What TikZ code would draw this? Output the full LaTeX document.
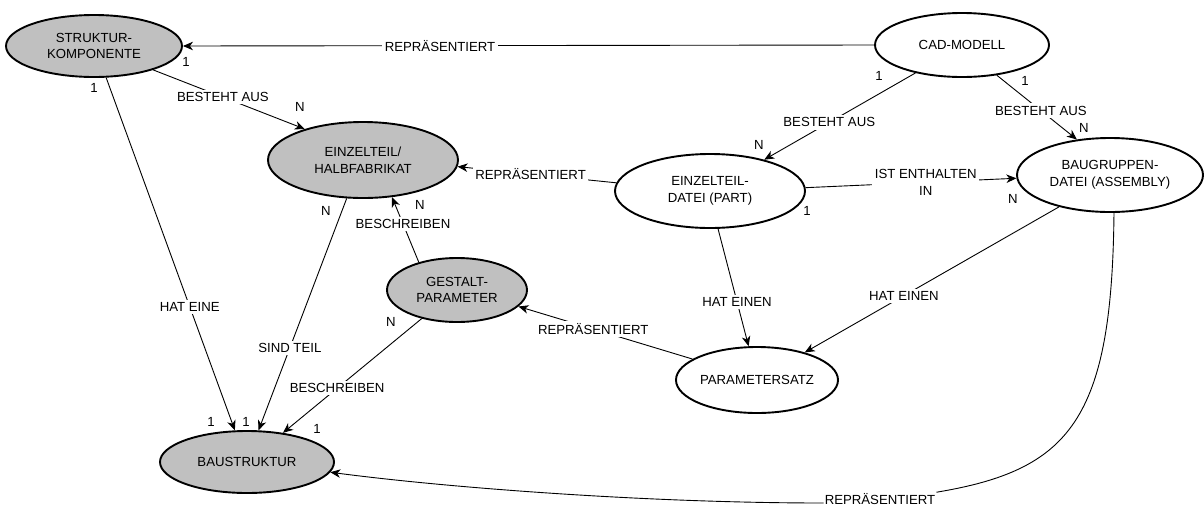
\documentclass[tikz,border=0pt]{standalone}
\usepackage{fontspec}
\setmainfont{Liberation Sans}
\usetikzlibrary{shapes.geometric,arrows.meta}
\definecolor{entityfill}{RGB}{192,192,192}
\begin{document}
\begin{tikzpicture}[x=1pt,y=-1pt,
  font=\fontsize{13.2}{16.5}\selectfont,
  entity/.style={ellipse,draw,line width=1.9pt,inner sep=0pt,align=center},
  grayent/.style={entity,fill=entityfill},
  whiteent/.style={entity,fill=white},
  rel/.style={line width=0.9pt},
  tipped/.style={-{Stealth[length=10pt,width=8.5pt,inset=3pt]}},
  lbl/.style={fill=white,inner sep=2.5pt,align=center},
  card/.style={inner sep=1pt}]
\useasboundingbox (0,0) rectangle (1204,507);

% entities
\node[grayent,minimum width=176pt,minimum height=62pt] (SK) at (94,46) {STRUKTUR-\\KOMPONENTE};
\node[whiteent,minimum width=174pt,minimum height=64pt] (CAD) at (962,45) {CAD-MODELL};
\node[grayent,minimum width=190pt,minimum height=76pt] (EH) at (363,160) {EINZELTEIL/\\HALBFABRIKAT};
\node[whiteent,minimum width=190pt,minimum height=74pt] (ED) at (710,191) {EINZELTEIL-\\DATEI (PART)};
\node[whiteent,minimum width=186pt,minimum height=74pt] (BG) at (1110,175) {BAUGRUPPEN-\\DATEI (ASSEMBLY)};
\node[grayent,minimum width=140pt,minimum height=64pt] (GP) at (457,290) {GESTALT-\\PARAMETER};
\node[whiteent,minimum width=162pt,minimum height=66pt] (PS) at (757,380) {PARAMETERSATZ};
\node[grayent,minimum width=174pt,minimum height=62pt] (BS) at (247,462) {BAUSTRUKTUR};

% relationships
\draw[rel,tipped] (CAD.west) -- node[lbl,pos=0.628] {REPRÄSENTIERT} (SK.east);
\draw[rel,tipped] (SK.-22) -- node[lbl,pos=0.46] {BESTEHT AUS} (EH.152);
\draw[rel,tipped] (SK.-69) -- node[lbl,pos=0.65] {HAT EINE} (BS.111);
\draw[rel,tipped] (EH.-113) -- node[lbl,pos=0.645] {SIND TEIL} (BS.70);
\draw[rel,tipped] (GP.219) -- node[lbl,pos=0.61] {BESCHREIBEN} (BS.39);
\draw[rel,tipped] (GP.144) -- node[lbl,pos=0.59] {BESCHREIBEN} (EH.-52);
\draw[rel,tipped] (ED.175) -- node[lbl,pos=0.54] {REPRÄSENTIERT} (EH.-4);
\draw[rel,tipped] (CAD.211) -- node[lbl,pos=0.57] {BESTEHT AUS} (ED.30);
\draw[rel,tipped] (CAD.-41) -- node[lbl,pos=0.55] {BESTEHT AUS} (BG.133);
\draw[rel,tipped] (ED.2) -- node[lbl,pos=0.57] {IST ENTHALTEN\\IN} (BG.182.5);
\draw[rel,tipped] (ED.-78) -- node[lbl,pos=0.62] {HAT EINEN} (PS.104);
\draw[rel,tipped] (BG.212) -- node[lbl,pos=0.61] {HAT EINEN} (PS.30);
\draw[rel,tipped] (PS.162) -- node[lbl,pos=0.57] {REPRÄSENTIERT} (GP.-15);

% long curved relationship along the bottom
\node[lbl,inner sep=1pt] (LB) at (880,499) {REPRÄSENTIERT};
\draw[rel] (BG.-84) .. controls (1112,420) and (1070,470) .. (LB.north east);
\draw[rel,tipped] ([yshift=-4pt]LB.west) .. controls (650,503) and (450,488) .. (BS.-7);

% cardinalities
\node[card] (c1) at (186,62) {1};
\node[card] (c2) at (94,88) {1};
\node[card] (c3) at (300,107) {N};
\node[card] (c4) at (211,422) {1};
\node[card] (c5) at (246,422) {1};
\node[card] (c6) at (317,429) {1};
\node[card] (c7) at (326,211) {N};
\node[card] (c8) at (420,205) {N};
\node[card] (c9) at (391,322) {N};
\node[card] (c10) at (879,76) {1};
\node[card] (c11) at (1025,81) {1};
\node[card] (c12) at (759,145) {N};
\node[card] (c13) at (1084,128) {N};
\node[card] (c14) at (807,211) {1};
\node[card] (c15) at (1013,199) {N};
\end{tikzpicture}
\end{document}
